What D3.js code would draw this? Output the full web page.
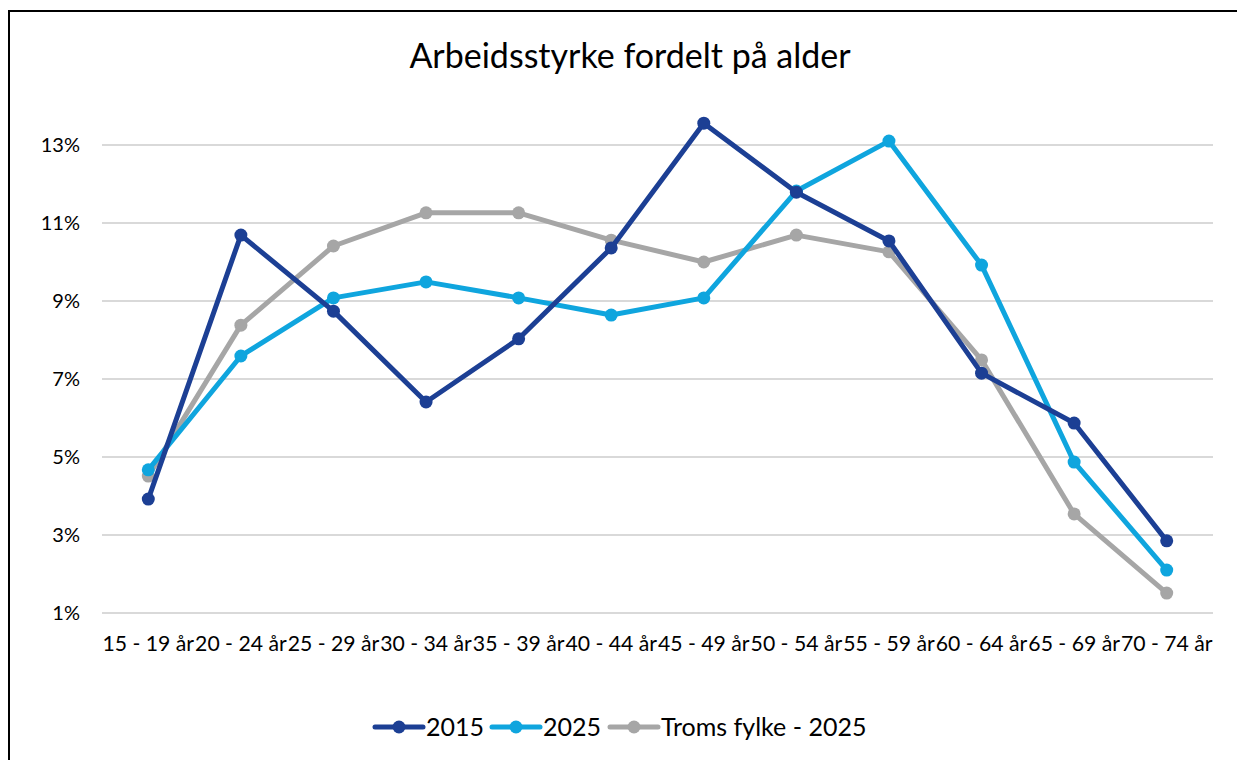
<!DOCTYPE html>
<html>
<head>
<meta charset="utf-8">
<script src="https://cdn.jsdelivr.net/npm/d3@7"></script>
<style>
  html, body { margin: 0; padding: 0; background: #fff; }
  svg { display: block; font-family: Lato, "Open Sans", sans-serif; }
</style>
</head>
<body>
<div id="chart"></div>
<script>
// Arbeidsstyrke fordelt på alder - line chart

const ageGroups = ['15 - 19 år', '20 - 24 år', '25 - 29 år', '30 - 34 år', '35 - 39 år', '40 - 44 år',
    '45 - 49 år', '50 - 54 år', '55 - 59 år', '60 - 64 år', '65 - 69 år', '70 - 74 år'];

const values2015 = [3.92, 10.69, 8.74, 6.41, 8.03, 10.36, 13.56, 11.79, 10.54, 7.15, 5.87, 2.85];
const values2025 = [4.67, 7.59, 9.08, 9.49, 9.08, 8.64, 9.08, 11.82, 13.1, 9.92, 4.87, 2.1];
const valuesTroms = [4.51, 8.38, 10.41, 11.26, 11.26, 10.56, 10.0, 10.69, 10.26, 7.49, 3.54, 1.51];

const seriesNames = ['2015', '2025', 'Troms fylke - 2025'];
const yTicks = [1, 3, 5, 7, 9, 11, 13];

const colors = ['#1c3f94', '#0fa5de', '#a6a6a6'];

const width = 1237;
const height = 760;
const margin = { top: 106, right: 24, bottom: 147, left: 102 };

const svg = d3.select('#chart')
    .append('svg')
    .attr('width', width)
    .attr('height', height);

// Chart border (runs off the right and bottom of the picture)
svg.append('rect')
    .attr('x', 9)
    .attr('y', 11)
    .attr('width', width + 20)
    .attr('height', height + 20)
    .attr('fill', 'none')
    .attr('stroke', '#000')
    .attr('stroke-width', 2);

// Title
svg.append('text')
    .attr('x', 630)
    .attr('y', 68)
    .attr('text-anchor', 'middle')
    .attr('fill', '#000')
    .style('font-size', '34px')
    .text('Arbeidsstyrke fordelt på alder');

const x = d3.scaleBand()
    .domain(ageGroups)
    .range([margin.left, width - margin.right]);

const y = d3.scaleLinear()
    .domain([1, 14])
    .range([height - margin.bottom, margin.top]);

// Gridlines
svg.append('g')
    .selectAll('line')
    .data(yTicks)
    .enter().append('line')
    .attr('x1', margin.left)
    .attr('x2', width - margin.right)
    .attr('y1', d => y(d))
    .attr('y2', d => y(d))
    .attr('stroke', '#d9d9d9')
    .attr('stroke-width', 2);

// Y axis labels
const yAxis = d3.axisLeft(y)
    .tickValues(yTicks)
    .tickFormat(d => d + '%')
    .tickSize(0)
    .tickPadding(0);

svg.append('g')
    .attr('transform', `translate(${margin.left - 22},0)`)
    .call(yAxis)
    .call(g => g.select('.domain').remove())
    .selectAll('text')
    .attr('fill', '#000')
    .style('font-size', '20px')
    .style('font-family', 'Lato, "Open Sans", sans-serif');

// X axis labels
const xAxis = d3.axisBottom(x)
    .tickSize(0)
    .tickPadding(0);

const xg = svg.append('g')
    .attr('transform', `translate(0,${height - margin.bottom + 23})`)
    .call(xAxis)
    .call(g => g.select('.domain').remove());

// labels sit edge to edge like the original
xg.selectAll('text')
    .attr('fill', '#000')
    .attr('dy', '0.71em')
    .attr('textLength', x.bandwidth() - 1)
    .attr('lengthAdjust', 'spacingAndGlyphs')
    .style('font-size', '21px')
    .style('font-family', 'Lato, "Open Sans", sans-serif');

// Lines and markers
const allSeries = [values2015, values2025, valuesTroms];
const line = d3.line()
    .x((d, i) => x(ageGroups[i]) + x.bandwidth() / 2)
    .y(d => y(d));

// draw in reverse so 2015 sits on top, like the original
[2, 1, 0].forEach(s => {
    const g = svg.append('g');
    g.append('path')
        .datum(allSeries[s])
        .attr('d', line)
        .attr('fill', 'none')
        .attr('stroke', colors[s])
        .attr('stroke-width', 5)
        .attr('stroke-linejoin', 'round');
    g.selectAll('circle')
        .data(allSeries[s])
        .enter().append('circle')
        .attr('cx', (d, i) => x(ageGroups[i]) + x.bandwidth() / 2)
        .attr('cy', d => y(d))
        .attr('r', 6.5)
        .attr('fill', colors[s]);
});

// Legend
const legendX = [375, 492, 610];
const legend = svg.append('g');
seriesNames.forEach((name, i) => {
    const lg = legend.append('g')
        .attr('transform', `translate(${legendX[i]},727)`);
    lg.append('line')
        .attr('x1', 0)
        .attr('x2', 48)
        .attr('stroke', colors[i])
        .attr('stroke-width', 5)
        .attr('stroke-linecap', 'round');
    lg.append('circle')
        .attr('cx', 24)
        .attr('r', 6.5)
        .attr('fill', colors[i]);
    lg.append('text')
        .attr('x', 51)
        .attr('dy', '0.35em')
        .attr('fill', '#000')
        .style('font-size', '25px')
        .text(name);
});
</script>
</body>
</html>
